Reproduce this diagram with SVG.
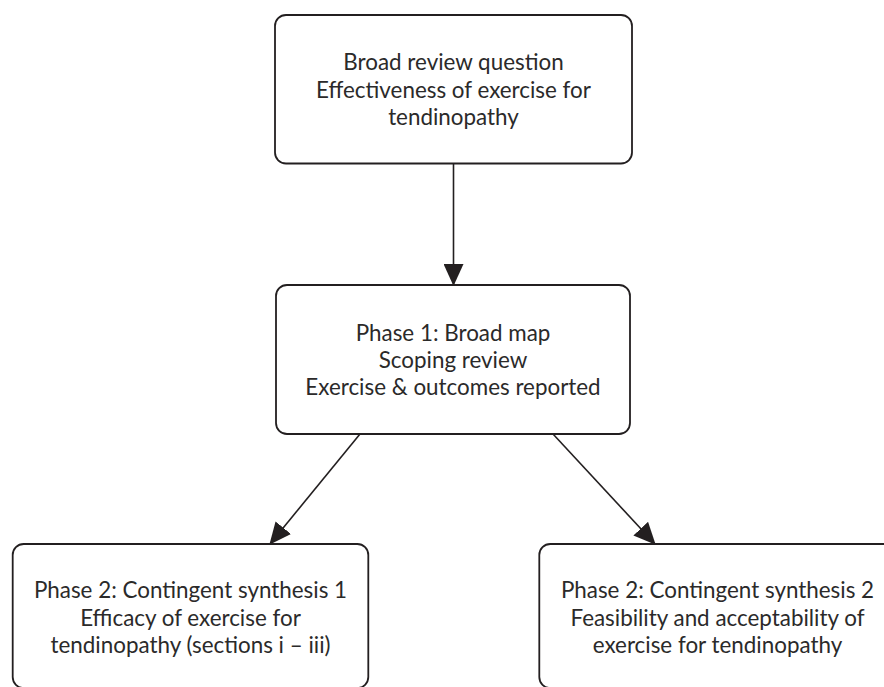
<svg xmlns="http://www.w3.org/2000/svg" width="884" height="687" viewBox="0 0 884 687">
<defs>
<style>
.box{fill:#ffffff;stroke:#231f20;stroke-width:1.8}
.t{font-family:Lato,"Open Sans","Liberation Sans",sans-serif;font-size:22.4px;fill:#2b2a2a;text-anchor:middle}
.c{stroke:#231f20;stroke-width:1.6;fill:none}
</style>
<marker id="ah" viewBox="0 0 22 20" refX="21" refY="10" markerWidth="22" markerHeight="20" markerUnits="userSpaceOnUse" orient="auto">
<path d="M0,0 L22,10 L0,20 Z" fill="#231f20"/>
</marker>
</defs>
<rect width="884" height="687" fill="#ffffff"/>
<g id="connectors">
<line class="c" x1="453.5" y1="164" x2="453.5" y2="285" marker-end="url(#ah)"/>
<line class="c" x1="360" y1="434" x2="270" y2="544" marker-end="url(#ah)"/>
<line class="c" x1="553" y1="434" x2="655" y2="544" marker-end="url(#ah)"/>
</g>
<g id="node-broad">
<rect class="box" x="275" y="15" width="357" height="148.5" rx="11"/>
<text class="t" x="453.5" y="70">Broad review question</text>
<text class="t" x="453.5" y="97.5">Effectiveness of exercise for</text>
<text class="t" x="453.5" y="125">tendinopathy</text>
</g>
<g id="node-phase1">
<rect class="box" x="276" y="285" width="354" height="149" rx="11"/>
<text class="t" x="453" y="341">Phase 1: Broad map</text>
<text class="t" x="453" y="368">Scoping review</text>
<text class="t" x="453" y="395">Exercise &amp; outcomes reported</text>
</g>
<g id="node-synth1">
<rect class="box" x="12.7" y="544" width="355.6" height="144" rx="11"/>
<text class="t" x="190.5" y="598">Phase 2: Contingent synthesis 1</text>
<text class="t" x="190.5" y="625.5">Efficacy of exercise for</text>
<text class="t" x="190.5" y="653">tendinopathy (sections i – iii)</text>
</g>
<g id="node-synth2">
<rect class="box" x="539.3" y="544" width="356" height="144" rx="11"/>
<text class="t" x="717.5" y="598">Phase 2: Contingent synthesis 2</text>
<text class="t" x="717.5" y="625.5">Feasibility and acceptability of</text>
<text class="t" x="717.5" y="653">exercise for tendinopathy</text>
</g>
</svg>
